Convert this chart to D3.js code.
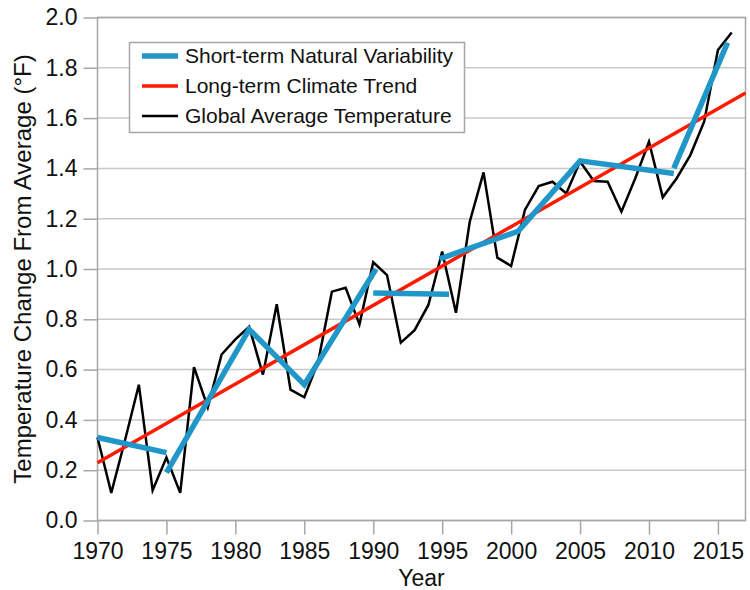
<!DOCTYPE html>
<html>
<head>
<meta charset="utf-8">
<script src="https://cdn.jsdelivr.net/npm/d3@7"></script>
<style>
  body { margin: 0; background: #fff; }
  text { font-family: "Liberation Sans", Arial, sans-serif; fill: #111; }
</style>
</head>
<body>
<div id="chart"></div>
<script>
// global average temperature, 1970-2016
const years = d3.range(1970, 2017);
const globalTemp = [0.33, 0.11, 0.32, 0.54, 0.12, 0.25, 0.11, 0.61, 0.45, 0.66,
    0.72, 0.77, 0.58, 0.86, 0.52, 0.49, 0.63, 0.91, 0.925, 0.78,
    1.027, 0.976, 0.707, 0.757, 0.857, 1.069, 0.826, 1.188, 1.384, 1.045,
    1.012, 1.235, 1.33, 1.347, 1.30, 1.427, 1.35, 1.347, 1.228, 1.36,
    1.506, 1.285, 1.36, 1.453, 1.586, 1.871, 1.94];

// long-term trend endpoints
const trendYears = [1970, 2017];
const trendValues = [0.23, 1.70];

// short-term natural variability segments
const shortTerm = [
    [[1970, 0.33], [1975, 0.27]],
    [[1975, 0.19], [1981, 0.76], [1985, 0.54], [1990.2, 1.0]],
    [[1990, 0.905], [1995.5, 0.90]],
    [[1994.8, 1.04], [2000.5, 1.15], [2005, 1.43], [2011.8, 1.38]],
    [[2011.8, 1.40], [2015.7, 1.90]]
];

const xTicks = d3.range(1970, 2016, 5);
const yTicks = d3.range(0, 2.01, 0.2);

const legendItems = [
    { label: "Short-term Natural Variability", color: "#2196c8", width: 5.5 },
    { label: "Long-term Climate Trend", color: "#ff1a00", width: 3.5 },
    { label: "Global Average Temperature", color: "#000", width: 2.5 }
];

const width = 750;
const height = 590;
const margin = { top: 17.5, right: 4.5, bottom: 69.5, left: 97.5 };

const svg = d3.select("#chart")
    .append("svg")
    .attr("width", width)
    .attr("height", height);

const xScale = d3.scaleLinear()
    .domain([1970, 2017])
    .range([margin.left, width - margin.right]);

const yScale = d3.scaleLinear()
    .domain([0, 2])
    .range([height - margin.bottom, margin.top]);

// gridlines
svg.append("g")
    .selectAll("line")
    .data(yTicks)
    .enter()
    .append("line")
    .attr("x1", margin.left)
    .attr("x2", width - margin.right)
    .attr("y1", d => yScale(d))
    .attr("y2", d => yScale(d))
    .attr("stroke", "#c8c8c8")
    .attr("stroke-width", 1.5);

// frame
svg.append("rect")
    .attr("x", margin.left)
    .attr("y", margin.top)
    .attr("width", width - margin.right - margin.left)
    .attr("height", height - margin.bottom - margin.top)
    .attr("fill", "none")
    .attr("stroke", "#a6a6a6")
    .attr("stroke-width", 1.5);

// axes
const xAxis = svg.append("g")
    .attr("transform", `translate(0,${height - margin.bottom})`)
    .call(d3.axisBottom(xScale).tickValues(xTicks).tickFormat(d3.format("d")).tickSize(14).tickPadding(8));

const yAxis = svg.append("g")
    .attr("transform", `translate(${margin.left},0)`)
    .call(d3.axisLeft(yScale).tickValues(yTicks).tickFormat(d3.format(".1f")).tickSize(14).tickPadding(6));

[xAxis, yAxis].forEach(ax => {
    ax.select(".domain").remove();
    ax.selectAll(".tick line").attr("stroke", "#a6a6a6").attr("stroke-width", 1.5);
    ax.selectAll(".tick text")
        .style("font-family", '"Liberation Sans", Arial, sans-serif')
        .style("font-size", "23px")
        .attr("fill", "#111");
});

// axis titles
svg.append("text")
    .attr("x", (margin.left + width - margin.right) / 2)
    .attr("y", 586)
    .attr("text-anchor", "middle")
    .style("font-size", "23px")
    .text("Year");

svg.append("text")
    .attr("transform", `translate(31,${(margin.top + height - margin.bottom) / 2}) rotate(-90)`)
    .attr("text-anchor", "middle")
    .style("font-size", "24px")
    .text("Temperature Change From Average (°F)");

const line = d3.line()
    .x(d => xScale(d[0]))
    .y(d => yScale(d[1]));

// global average
svg.append("path")
    .datum(years.map((y, i) => [y, globalTemp[i]]))
    .attr("d", line)
    .attr("fill", "none")
    .attr("stroke", "#000")
    .attr("stroke-width", 2.5)
    .attr("stroke-linejoin", "miter");

// trend
svg.append("path")
    .datum(trendYears.map((y, i) => [y, trendValues[i]]))
    .attr("d", line)
    .attr("fill", "none")
    .attr("stroke", "#ff1a00")
    .attr("stroke-width", 3.5);

// short-term segments
svg.append("g")
    .selectAll("path")
    .data(shortTerm)
    .enter()
    .append("path")
    .attr("d", line)
    .attr("fill", "none")
    .attr("stroke", "#2196c8")
    .attr("stroke-width", 5.5);

// legend
const legend = svg.append("g");
legend.append("rect")
    .attr("x", 129.5)
    .attr("y", 42.5)
    .attr("width", 335)
    .attr("height", 90)
    .attr("fill", "#fff")
    .attr("stroke", "#a6a6a6")
    .attr("stroke-width", 1.5);

const rows = legend.selectAll("g.row")
    .data(legendItems)
    .enter()
    .append("g")
    .attr("class", "row")
    .attr("transform", (d, i) => `translate(0,${56 + i * 30})`);

rows.append("line")
    .attr("x1", 142)
    .attr("x2", 178)
    .attr("stroke", d => d.color)
    .attr("stroke-width", d => d.width);

rows.append("text")
    .attr("x", 185)
    .attr("dy", "0.35em")
    .style("font-size", "21px")
    .text(d => d.label);
</script>
</body>
</html>
